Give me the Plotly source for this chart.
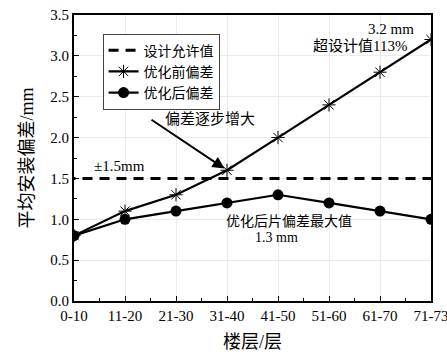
import plotly.graph_objects as go

categories = ["0-10", "11-20", "21-30", "31-40", "41-50", "51-60", "61-70", "71-73"]
before = [0.8, 1.1, 1.3, 1.6, 2.0, 2.4, 2.8, 3.2]
after = [0.8, 1.0, 1.1, 1.2, 1.3, 1.2, 1.1, 1.0]
allow = [1.5] * len(categories)

FONT = "Liberation Serif, Noto Sans CJK SC"
xs = list(range(len(categories)))

fig = go.Figure()
fig.add_trace(go.Scatter(x=[-0.5, 7.5], y=[allow[0], allow[-1]], mode="lines", name="设计允许值",
                         line=dict(color="black", width=3, dash="10px,7px")))
fig.add_trace(go.Scatter(x=xs, y=before, mode="lines+markers", name="优化前偏差",
                         line=dict(color="black", width=2.2),
                         marker=dict(symbol="asterisk-open", size=11, color="black",
                                     line=dict(color="black", width=1))))
fig.add_trace(go.Scatter(x=xs, y=after, mode="lines+markers", name="优化后偏差",
                         line=dict(color="black", width=2.2),
                         marker=dict(symbol="circle", size=11, color="black")))

fig.update_layout(
    width=447, height=354,
    margin=dict(l=74, r=16, t=15, b=53, autoexpand=False),
    paper_bgcolor="white", plot_bgcolor="white",
    font=dict(family=FONT, size=15, color="black"),
    showlegend=True,
    legend=dict(x=0.08, y=0.935, xanchor="left", yanchor="top",
                bgcolor="white", bordercolor="#444", borderwidth=1,
                font=dict(size=14), itemwidth=30, tracegroupgap=0),
    xaxis=dict(range=[0, 7], tickmode="array", tickvals=xs, ticktext=categories,
               automargin=False,
               showgrid=True, gridcolor="#ebebeb", gridwidth=1,
               showline=True, linecolor="black", linewidth=2, mirror=True,
               ticks="inside", ticklen=5, tickcolor="black",
               minor=dict(ticks="inside", ticklen=3, dtick=0.5, tickcolor="black", showgrid=False),
               tickfont=dict(size=15), ticklabeloverflow="allow",
               title=dict(text="楼层/层", font=dict(size=18), standoff=12),
               zeroline=False),
    yaxis=dict(range=[0, 3.5], dtick=0.5, tickformat=".1f",
               automargin=False,
               showgrid=True, gridcolor="#ebebeb", gridwidth=1,
               showline=True, linecolor="black", linewidth=2, mirror=True,
               ticks="inside", ticklen=5, tickcolor="black",
               minor=dict(ticks="inside", ticklen=3, dtick=0.25, tickcolor="black", showgrid=False),
               tickfont=dict(size=15),
               title=dict(text="平均安装偏差/mm", font=dict(size=18), standoff=12),
               zeroline=False),
)

fig.add_annotation(x=6.70, y=3.33, text="3.2 mm", showarrow=False, xanchor="right",
                   font=dict(size=15))
fig.add_annotation(x=6.57, y=3.12, text="超设计值113%", showarrow=False, xanchor="right",
                   font=dict(size=15))
fig.add_annotation(x=1.75, y=2.23, text="偏差逐步增大", showarrow=False, xanchor="left",
                   font=dict(size=15))
fig.add_annotation(x=3.0, y=1.6, ax=1.49, ay=2.23, xref="x", yref="y", axref="x", ayref="y",
                   showarrow=True, arrowhead=2, arrowsize=1.2, arrowwidth=2, arrowcolor="black",
                   standoff=3, text="")
fig.add_annotation(x=0.35, y=1.65, text="±1.5mm", showarrow=False, xanchor="left",
                   font=dict(size=15))
fig.add_annotation(x=4.22, y=0.97, text="优化后片偏差最大值", showarrow=False,
                   font=dict(size=14))
fig.add_annotation(x=3.98, y=0.78, text="1.3 mm", showarrow=False, font=dict(size=14))

fig.write_html("out.html")
